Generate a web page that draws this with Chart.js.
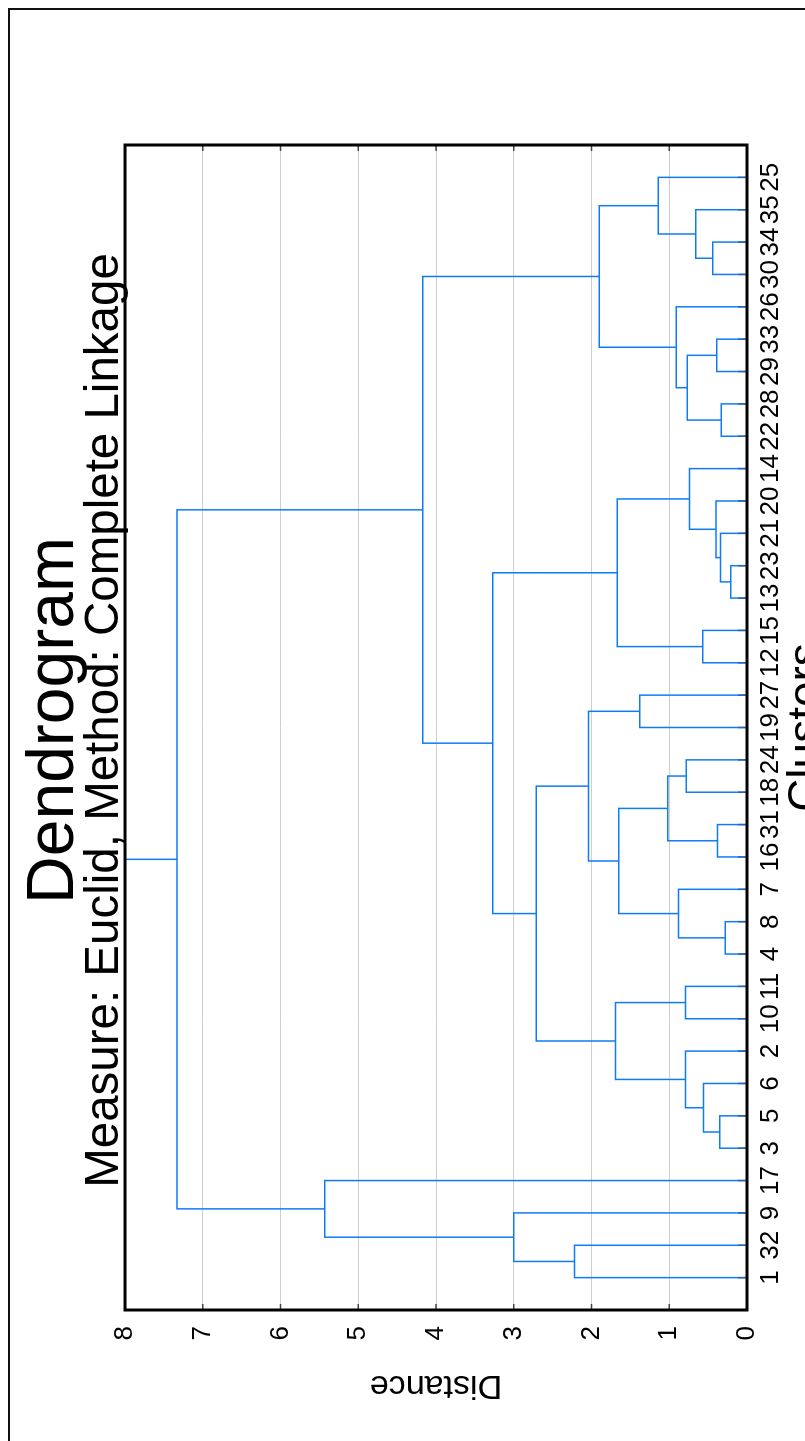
<!DOCTYPE html>
<html><head><meta charset="utf-8">
<script src="https://cdn.jsdelivr.net/npm/chart.js@4.4.0/dist/chart.umd.min.js"></script>
<style>
html,body{margin:0;padding:0;background:#fff;width:805px;height:1441px;overflow:hidden;position:relative;}
#rot{position:absolute;left:0;top:0;width:1441px;height:860px;transform-origin:0 0;transform:translateY(1441px) rotate(-90deg);}
#frame{position:absolute;left:8px;top:8px;width:2000px;height:2000px;border-left:2px solid #111;border-top:2px solid #111;pointer-events:none;}
</style></head><body>
<div id="rot"><canvas id="c" width="1441" height="860"></canvas></div>
<div id="frame"></div>
<script>
// leaves in dendrogram order
const leafLabels = ['1','32','9','17','3','5','6','2','10','11','4','8','7','16','31','18','24','19','27','12','15','13','23','21','20','14','22','28','29','33','26','30','34','35','25'];
// merges: node ids 0..34 are leaves (by position), 35+ are merged nodes in order
const mergeLeft   = [21,10,26,35,4,13,28,38,31,39,19,43,42,37,15,44,8,36,48,40,46,17,52,45,50,53,57,0,59,62,63,65,64,67];
const mergeRight  = [22,11,27,23,5,14,29,24,32,6,20,33,25,41,16,7,9,12,30,49,34,18,54,47,51,55,56,1,61,2,58,60,3,66];
const mergeHeight = [0.21,0.28,0.33,0.34,0.35,0.38,0.39,0.40,0.44,0.56,0.57,0.66,0.74,0.77,0.78,0.79,0.79,0.88,0.91,1.02,1.14,1.38,1.65,1.67,1.69,1.90,2.04,2.22,2.71,3.00,3.27,4.17,5.43,7.33];
const distanceTicks = [0,1,2,3,4,5,6,7,8];
const distanceMax = 8;

const FONT = "'Liberation Sans', Arial, Helvetica, sans-serif";
const LINE = '#0f7cf6';

const nLeaves = leafLabels.length;
const pos = leafLabels.map((_, i) => i + 1);
const hgt = leafLabels.map(() => 0);
const datasets = [];
mergeHeight.forEach((h, k) => {
  const a = mergeLeft[k], b = mergeRight[k];
  datasets.push({
    data: [{x: pos[a], y: hgt[a]}, {x: pos[a], y: h}, {x: pos[b], y: h}, {x: pos[b], y: hgt[b]}]
  });
  pos.push((pos[a] + pos[b]) / 2);
  hgt.push(h);
});
const rootId = pos.length - 1;
datasets.push({data: [{x: pos[rootId], y: hgt[rootId]}, {x: pos[rootId], y: distanceMax}]});
datasets.forEach(d => Object.assign(d, {
  showLine: true, borderColor: LINE, borderWidth: 1.5, pointRadius: 0, pointHoverRadius: 0,
  fill: false, tension: 0, borderJoinStyle: 'miter', borderCapStyle: 'butt'
}));

const framePlugin = {
  id: 'framePlugin',
  afterDatasetsDraw(chart) {
    const {ctx, chartArea: a} = chart;
    const xs = chart.scales.x, ys = chart.scales.y;
    ctx.save();
    ctx.lineWidth = 1.5;
    ctx.strokeStyle = '#2e64a8';
    leafLabels.forEach((_, i) => {
      const px = xs.getPixelForValue(i + 1);
      ctx.beginPath(); ctx.moveTo(px, a.bottom); ctx.lineTo(px, a.bottom - 9); ctx.stroke();
    });
    ctx.strokeStyle = '#444';
    distanceTicks.forEach(v => {
      const py = ys.getPixelForValue(v);
      ctx.beginPath(); ctx.moveTo(a.left, py); ctx.lineTo(a.left + 6, py); ctx.stroke();
      ctx.beginPath(); ctx.moveTo(a.right, py); ctx.lineTo(a.right - 6, py); ctx.stroke();
    });
    ctx.strokeStyle = '#000';
    ctx.lineWidth = 3;
    ctx.strokeRect(a.left, a.top, a.right - a.left, a.bottom - a.top);
    ctx.restore();
  }
};

new Chart(document.getElementById('c'), {
  type: 'scatter',
  data: {datasets},
  plugins: [framePlugin],
  options: {
    responsive: false,
    animation: false,
    events: [],
    layout: {padding: 0},
    plugins: {
      legend: {display: false},
      tooltip: {enabled: false},
      title: {display: true, text: 'Dendrogram', color: '#000',
        font: {family: FONT, size: 66, weight: 'normal', lineHeight: 0.9},
        padding: {top: 25, bottom: 2.8}},
      subtitle: {display: true, text: 'Measure: Euclid, Method: Complete Linkage', color: '#000',
        font: {family: FONT, size: 47.5, weight: 'normal', lineHeight: 0.75},
        padding: {top: 0, bottom: 2.2}}
    },
    scales: {
      x: {
        type: 'linear', position: 'bottom', min: 0, max: nLeaves + 1,
        afterBuildTicks: s => { s.ticks = leafLabels.map((_, i) => ({value: i + 1})); },
        afterFit: s => { s.height = 113; },
        grid: {display: false, drawTicks: false},
        border: {display: false},
        ticks: {autoSkip: false, maxRotation: 0, minRotation: 0, padding: 8, color: '#000',
          font: {family: FONT, size: 26},
          callback: v => leafLabels[v - 1] ?? ''},
        title: {display: true, text: 'Clusters', color: '#000',
          font: {family: FONT, size: 46, lineHeight: 1}, padding: {top: 0, bottom: 30}}
      },
      y: {
        type: 'linear', position: 'left', min: 0, max: distanceMax,
        afterBuildTicks: s => { s.ticks = distanceTicks.map(v => ({value: v})); },
        afterFit: s => { s.width = 131; },
        grid: {color: '#cfcfcf', lineWidth: 1, drawTicks: false},
        border: {display: false},
        ticks: {padding: 16, color: '#000', font: {family: FONT, size: 26}},
        title: {display: true, text: 'Distance', color: '#000',
          font: {family: FONT, size: 34, lineHeight: 1}, padding: {top: 39, bottom: 0}}
      },
      y2: {
        type: 'linear', position: 'right', min: 0, max: distanceMax,
        afterFit: s => { s.width = 145; },
        grid: {display: false, drawTicks: false},
        border: {display: false},
        ticks: {display: false}
      }
    }
  }
});
</script>
</body></html>
